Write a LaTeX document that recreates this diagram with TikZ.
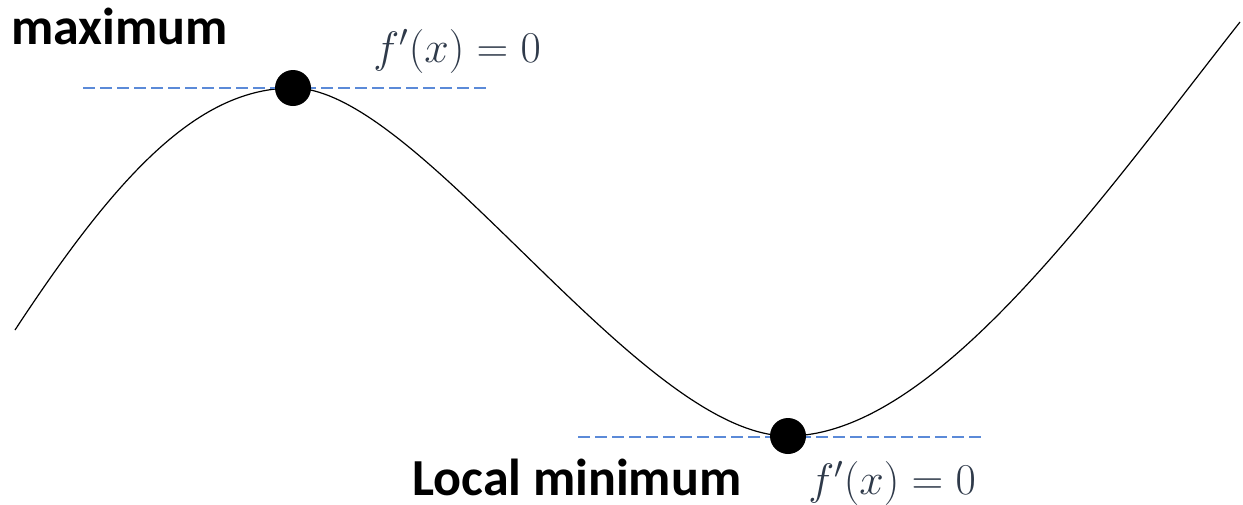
\documentclass[tikz,border=0pt]{standalone}
\usepackage{fix-cm}
\usepackage{fontspec}
\setmainfont{Carlito}
\usetikzlibrary{positioning,calc}
\definecolor{ndash}{HTML}{5B8AD8}
\definecolor{nslate}{HTML}{2F3A4A}

\tikzset{
  extremum/.style={circle, fill=black, inner sep=0pt, minimum size=18pt},
  tangent/.style={ndash, line width=0.7pt, dash pattern=on 6pt off 2.5pt},
  bigword/.style={font=\fontsize{26}{30}\selectfont\bfseries, anchor=base west, inner sep=0pt},
  deriv/.style={nslate, font=\fontsize{22}{26}\selectfont, anchor=base west, inner sep=0pt}
}

\begin{document}
\begin{tikzpicture}[x=0.5pt, y=-0.5pt]
 \useasboundingbox (0,0) rectangle (1243,504);
 % the curve
 \coordinate (start) at (15,330);
 \coordinate (top) at (293,88);
 \coordinate (bottom) at (788,436);
 \coordinate (end) at (1240,22);
 \draw[line width=0.6pt] (start) .. controls (120,170) and (200,88) .. (top)
   .. controls (420,88) and (640,436) .. (bottom)
   .. controls (935,436) and (1100,200) .. (end);
 % tangents
 \coordinate (tl) at (83,88);
 \coordinate (tr) at (490,88);
 \coordinate (bl) at (578,437);
 \coordinate (br) at (985,437);
 \draw[tangent] (tl) -- (tr);
 \draw[tangent] (bl) -- (br);
 % points
 \node[extremum] (maxdot) at (top) {};
 \node[extremum] (mindot) at (bottom) {};
 % labels
 \node[bigword] (maxlabel) at (11,44) {maximum};
 \node[bigword] (minlabel) at (412,495) {Local minimum};
 \node[deriv] (maxderiv) at (373,62) {$f'(x)=0$};
 \node[deriv] (minderiv) at (808,494) {$f'(x)=0$};
\end{tikzpicture}
\end{document}
